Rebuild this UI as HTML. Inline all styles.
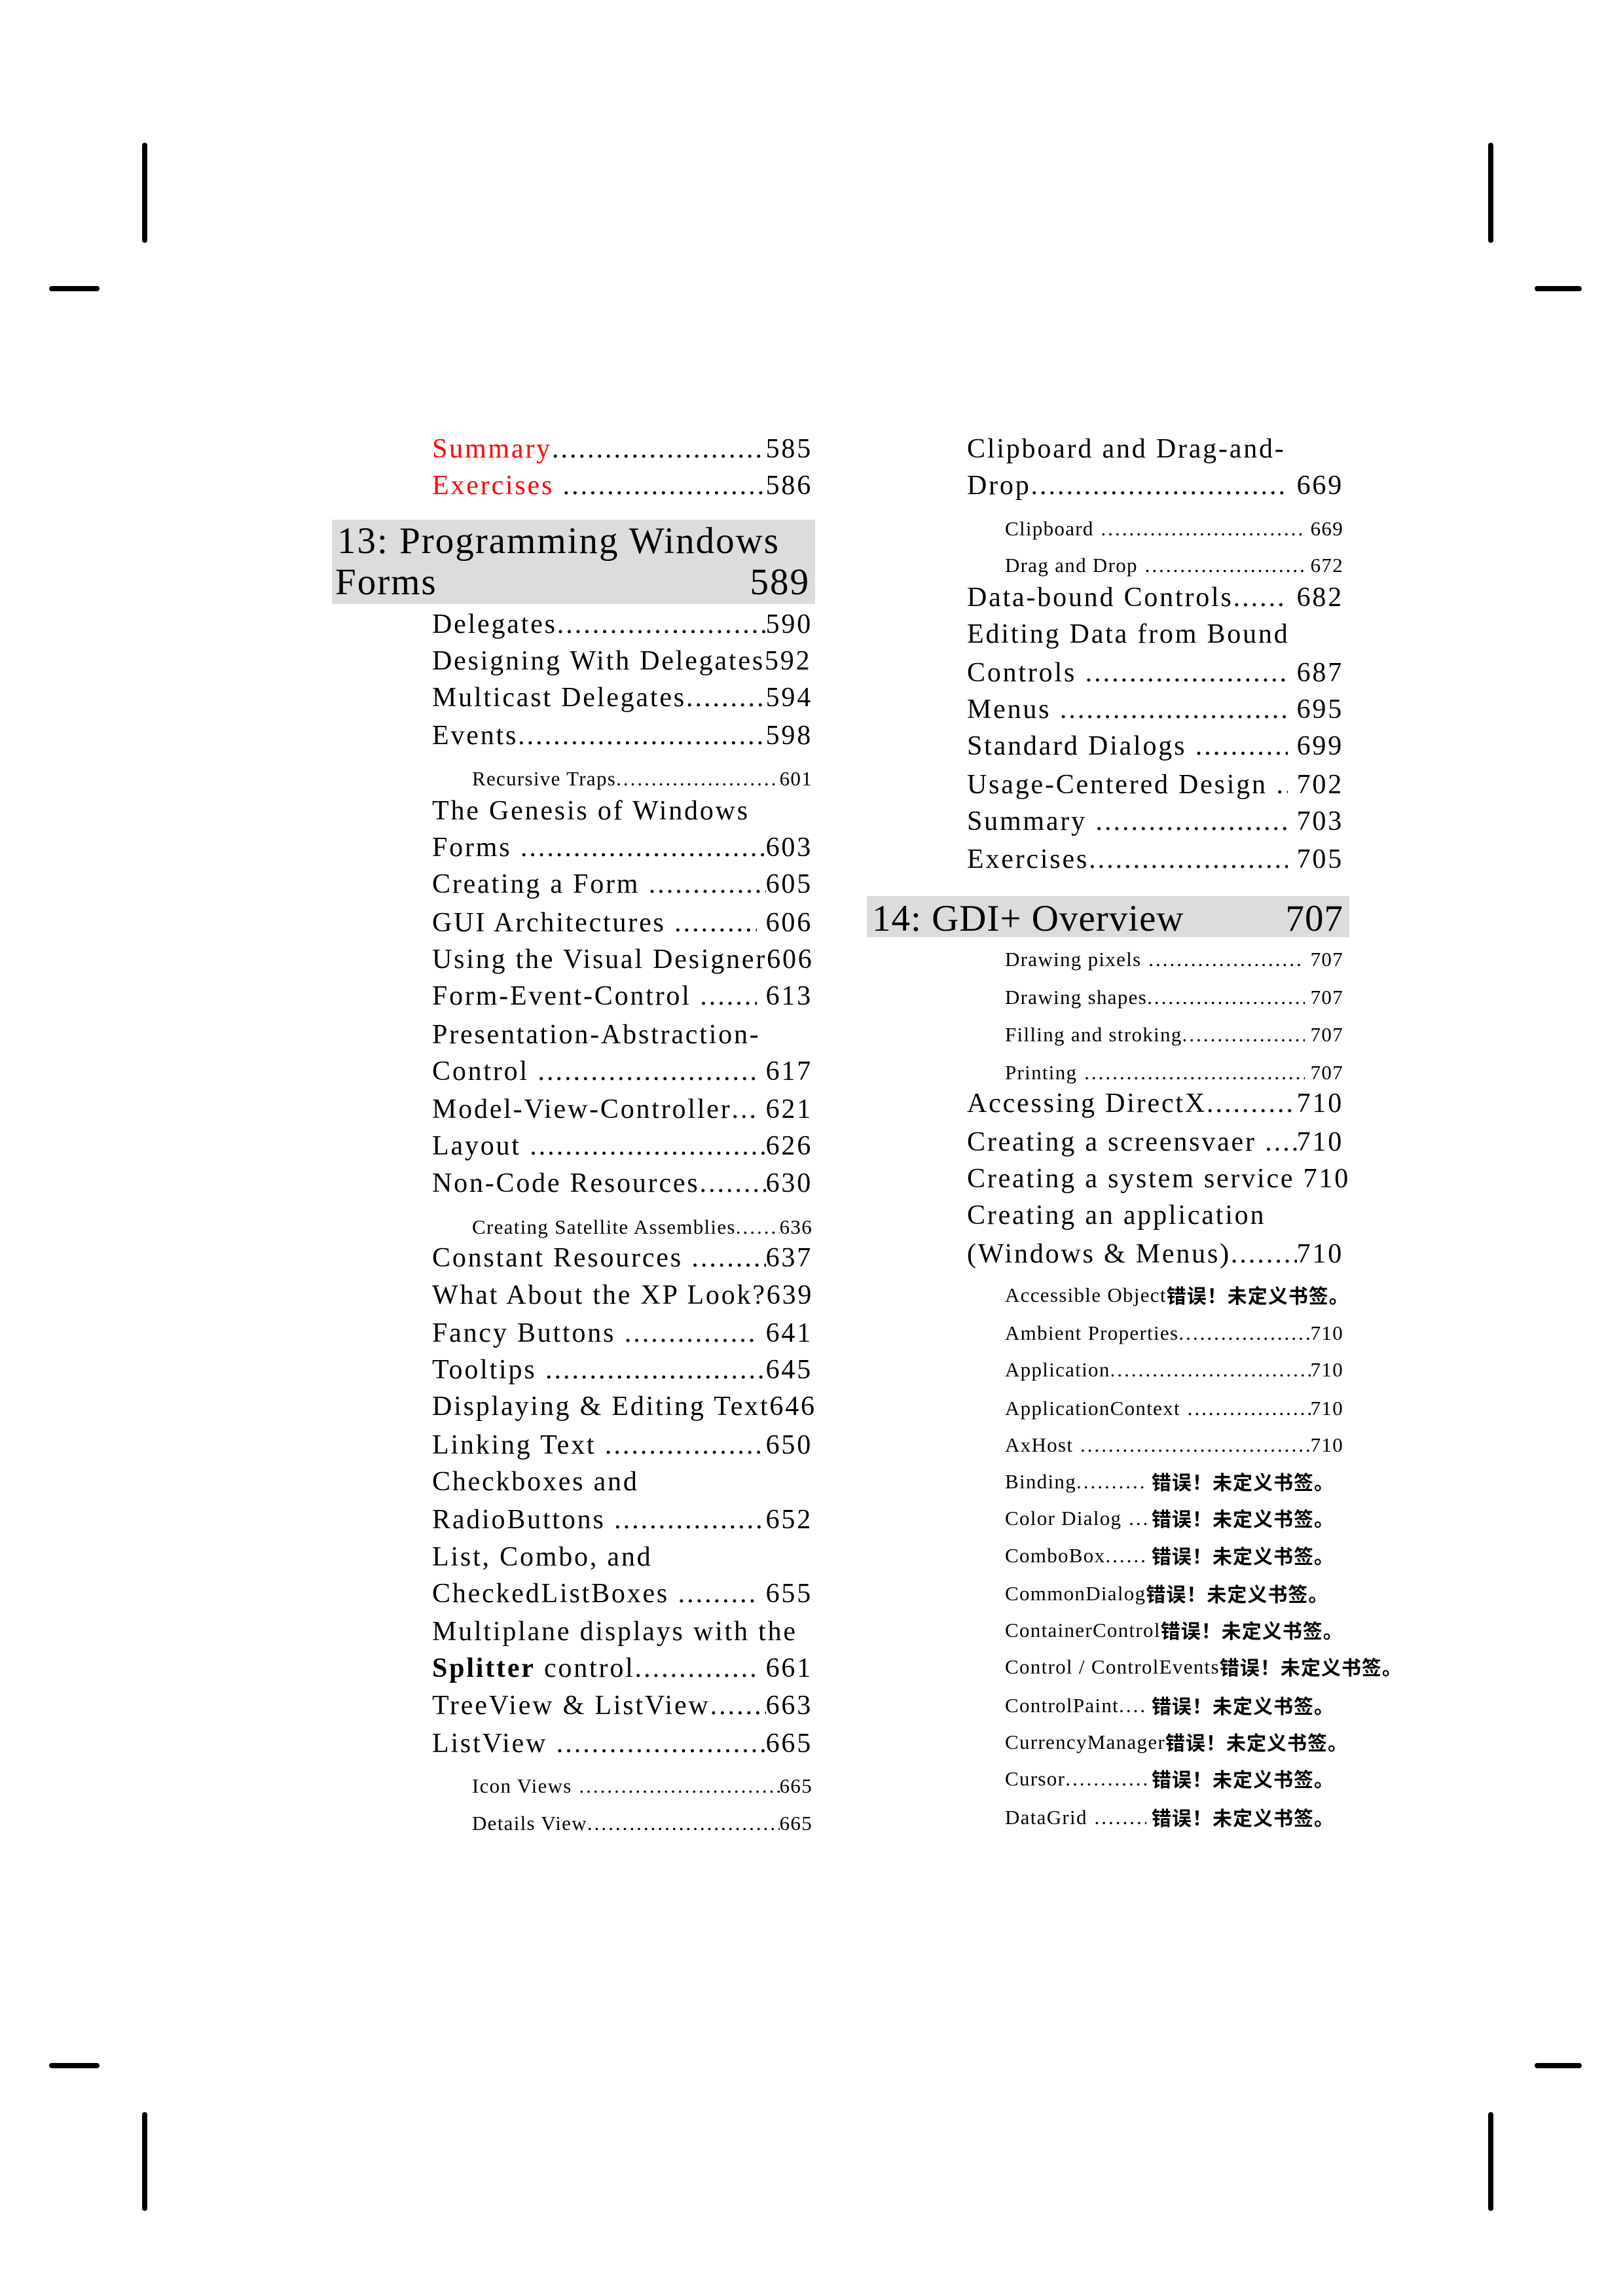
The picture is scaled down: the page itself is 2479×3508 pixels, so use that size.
<!DOCTYPE html>
<html><head><meta charset="utf-8"><style>
html,body{margin:0;padding:0;background:#fff;}
body{width:2479px;height:3508px;position:relative;overflow:hidden;font-family:"Liberation Serif","Noto Serif CJK SC",serif;color:#000;}
.m,.s,.h{position:absolute;display:flex;white-space:nowrap;}
.m{font-size:42px;line-height:42px;height:42px;letter-spacing:2.8px;}
.s{font-size:31px;line-height:29px;height:29px;letter-spacing:1.3px;}
.h{font-size:57px;line-height:57px;height:57px;letter-spacing:2px;}
.L{left:660px;width:581px;}
.R{left:1477px;width:575px;}
.sl{left:721px;width:520px;}
.sr{left:1535px;width:517px;}
.d{flex:1 1 auto;overflow:hidden;min-width:0;letter-spacing:3px;}
.n{flex:0 0 auto;}
.red{color:#f00;}
.cj{flex:0 0 auto;font-family:"Noto Sans CJK SC","WenQuanYi Zen Hei",sans-serif;font-weight:bold;font-size:30px;letter-spacing:1px;}
.box{position:absolute;background:#dcdcdc;}
.k{position:absolute;background:#000;border-radius:4px;}
</style></head><body>
<div class="k" style="left:217px;top:218px;width:8px;height:153px"></div>
<div class="k" style="left:2273px;top:218px;width:8px;height:153px"></div>
<div class="k" style="left:217px;top:3227px;width:8px;height:151px"></div>
<div class="k" style="left:2273px;top:3227px;width:8px;height:151px"></div>
<div class="k" style="left:75px;top:437px;width:77px;height:8px"></div>
<div class="k" style="left:2344px;top:437px;width:72px;height:8px"></div>
<div class="k" style="left:75px;top:3152px;width:77px;height:8px"></div>
<div class="k" style="left:2344px;top:3152px;width:72px;height:8px"></div>

<div class="m L" style="top:665px"><span class="red">Summary</span><span class="d">....................................................................................</span><span class="n">585</span></div>
<div class="m L" style="top:721px"><span class="red">Exercises</span><span class="d">&nbsp;....................................................................................</span><span class="n">586</span></div>
<div class="box" style="left:507px;top:794px;width:738px;height:129px"></div>
<div class="h" style="left:515px;top:798px">13: Programming Windows</div>
<div class="h" style="left:512px;top:861px;width:725px"><span>Forms</span><span style="flex:1"></span><span class="n">589</span></div>
<div class="m L" style="top:933px"><span>Delegates</span><span class="d">....................................................................................</span><span class="n">590</span></div>
<div class="m L" style="top:989px"><span>Designing With Delegates592</span></div>
<div class="m L" style="top:1045px"><span>Multicast Delegates</span><span class="d">....................................................................................</span><span class="n">594</span></div>
<div class="m L" style="top:1103px"><span>Events</span><span class="d">....................................................................................</span><span class="n">598</span></div>
<div class="s sl" style="top:1175px"><span>Recursive Traps</span><span class="d">............................................................................................</span><span class="n">601</span></div>
<div class="m L" style="top:1218px"><span>The Genesis of Windows</span></div>
<div class="m L" style="top:1274px"><span>Forms</span><span class="d">&nbsp;....................................................................................</span><span class="n">603</span></div>
<div class="m L" style="top:1330px"><span>Creating a Form</span><span class="d">&nbsp;....................................................................................</span><span class="n">605</span></div>
<div class="m L" style="top:1389px"><span>GUI Architectures</span><span class="d">&nbsp;....................................................................................</span><span class="n">&nbsp;606</span></div>
<div class="m L" style="top:1445px"><span>Using the Visual Designer606</span></div>
<div class="m L" style="top:1501px"><span>Form-Event-Control</span><span class="d">&nbsp;....................................................................................</span><span class="n">&nbsp;613</span></div>
<div class="m L" style="top:1560px"><span>Presentation-Abstraction-</span></div>
<div class="m L" style="top:1616px"><span>Control</span><span class="d">&nbsp;....................................................................................</span><span class="n">&nbsp;617</span></div>
<div class="m L" style="top:1674px"><span>Model-View-Controller</span><span class="d">....................................................................................</span><span class="n">&nbsp;621</span></div>
<div class="m L" style="top:1730px"><span>Layout</span><span class="d">&nbsp;....................................................................................</span><span class="n">626</span></div>
<div class="m L" style="top:1787px"><span>Non-Code Resources</span><span class="d">....................................................................................</span><span class="n">630</span></div>
<div class="s sl" style="top:1860px"><span>Creating Satellite Assemblies</span><span class="d">...........................................................</span><span class="n">636</span></div>
<div class="m L" style="top:1901px"><span>Constant Resources</span><span class="d">&nbsp;....................................................................................</span><span class="n">637</span></div>
<div class="m L" style="top:1958px"><span>What About the XP Look?639</span></div>
<div class="m L" style="top:2016px"><span>Fancy Buttons</span><span class="d">&nbsp;....................................................................................</span><span class="n">&nbsp;641</span></div>
<div class="m L" style="top:2072px"><span>Tooltips</span><span class="d">&nbsp;....................................................................................</span><span class="n">645</span></div>
<div class="m L" style="top:2128px"><span>Displaying &amp; Editing Text646</span></div>
<div class="m L" style="top:2187px"><span>Linking Text</span><span class="d">&nbsp;....................................................................................</span><span class="n">650</span></div>
<div class="m L" style="top:2243px"><span>Checkboxes and</span></div>
<div class="m L" style="top:2301px"><span>RadioButtons</span><span class="d">&nbsp;....................................................................................</span><span class="n">652</span></div>
<div class="m L" style="top:2358px"><span>List, Combo, and</span></div>
<div class="m L" style="top:2414px"><span>CheckedListBoxes</span><span class="d">&nbsp;....................................................................................</span><span class="n">&nbsp;655</span></div>
<div class="m L" style="top:2472px"><span>Multiplane displays with the</span></div>
<div class="m L" style="top:2528px"><span><b>Splitter</b> control</span><span class="d">....................................................................................</span><span class="n">&nbsp;661</span></div>
<div class="m L" style="top:2585px"><span>TreeView &amp; ListView</span><span class="d">....................................................................................</span><span class="n">663</span></div>
<div class="m L" style="top:2643px"><span>ListView</span><span class="d">&nbsp;....................................................................................</span><span class="n">665</span></div>
<div class="s sl" style="top:2714px"><span>Icon Views</span><span class="d">&nbsp;............................................................................................</span><span class="n">665</span></div>
<div class="s sl" style="top:2771px"><span>Details View</span><span class="d">............................................................................................</span><span class="n">665</span></div>

<div class="m R" style="top:665px"><span>Clipboard and Drag-and-</span></div>
<div class="m R" style="top:721px"><span>Drop</span><span class="d">....................................................................................</span><span class="n">&nbsp;669</span></div>
<div class="s sr" style="top:793px"><span>Clipboard</span><span class="d">&nbsp;............................................................................................</span><span class="n">&nbsp;669</span></div>
<div class="s sr" style="top:849px"><span>Drag and Drop</span><span class="d">&nbsp;............................................................................................</span><span class="n">&nbsp;672</span></div>
<div class="m R" style="top:892px"><span>Data-bound Controls</span><span class="d">....................................................................................</span><span class="n">&nbsp;682</span></div>
<div class="m R" style="top:948px"><span>Editing Data from Bound</span></div>
<div class="m R" style="top:1007px"><span>Controls</span><span class="d">&nbsp;....................................................................................</span><span class="n">&nbsp;687</span></div>
<div class="m R" style="top:1063px"><span>Menus</span><span class="d">&nbsp;....................................................................................</span><span class="n">&nbsp;695</span></div>
<div class="m R" style="top:1119px"><span>Standard Dialogs</span><span class="d">&nbsp;....................................................................................</span><span class="n">&nbsp;699</span></div>
<div class="m R" style="top:1178px"><span>Usage-Centered Design</span><span class="d">&nbsp;....................................................................................</span><span class="n">&nbsp;702</span></div>
<div class="m R" style="top:1234px"><span>Summary</span><span class="d">&nbsp;....................................................................................</span><span class="n">&nbsp;703</span></div>
<div class="m R" style="top:1292px"><span>Exercises</span><span class="d">....................................................................................</span><span class="n">&nbsp;705</span></div>
<div class="box" style="left:1324px;top:1369px;width:737px;height:63px"></div>
<div class="h" style="left:1332px;top:1375px;width:720px;letter-spacing:1px"><span>14: GDI+ Overview</span><span style="flex:1"></span><span class="n">707</span></div>
<div class="s sr" style="top:1451px"><span>Drawing pixels</span><span class="d">&nbsp;............................................................................................</span><span class="n">&nbsp;707</span></div>
<div class="s sr" style="top:1509px"><span>Drawing shapes</span><span class="d">............................................................................................</span><span class="n">&nbsp;707</span></div>
<div class="s sr" style="top:1566px"><span>Filling and stroking</span><span class="d">............................................................................................</span><span class="n">&nbsp;707</span></div>
<div class="s sr" style="top:1624px"><span>Printing</span><span class="d">&nbsp;............................................................................................</span><span class="n">&nbsp;707</span></div>
<div class="m R" style="top:1665px"><span>Accessing DirectX</span><span class="d">....................................................................................</span><span class="n">710</span></div>
<div class="m R" style="top:1724px"><span>Creating a screensvaer</span><span class="d">&nbsp;....................................................................................</span><span class="n">710</span></div>
<div class="m R" style="top:1780px"><span>Creating a system service 710</span></div>
<div class="m R" style="top:1836px"><span>Creating an application</span></div>
<div class="m R" style="top:1895px"><span>(Windows &amp; Menus)</span><span class="d">....................................................................................</span><span class="n">710</span></div>
<div class="s sr" style="top:1964px;width:526px"><span>Accessible Object</span><span class="cj">错误！未定义书签。</span></div>
<div class="s sr" style="top:2022px"><span>Ambient Properties</span><span class="d">............................................................................................</span><span class="n">710</span></div>
<div class="s sr" style="top:2078px"><span>Application</span><span class="d">............................................................................................</span><span class="n">710</span></div>
<div class="s sr" style="top:2137px"><span>ApplicationContext</span><span class="d">&nbsp;............................................................................................</span><span class="n">710</span></div>
<div class="s sr" style="top:2193px"><span>AxHost</span><span class="d">&nbsp;............................................................................................</span><span class="n">710</span></div>
<div class="s sr" style="top:2249px;width:503px"><span>Binding</span><span class="d">............................................................................................</span><span class="cj">&nbsp;错误！未定义书签。</span></div>
<div class="s sr" style="top:2305px;width:503px"><span>Color Dialog</span><span class="d">&nbsp;............................................................................................</span><span class="cj">&nbsp;错误！未定义书签。</span></div>
<div class="s sr" style="top:2362px;width:503px"><span>ComboBox</span><span class="d">............................................................................................</span><span class="cj">&nbsp;错误！未定义书签。</span></div>
<div class="s sr" style="top:2420px;width:503px"><span>CommonDialog</span><span class="cj">错误！未定义书签。</span></div>
<div class="s sr" style="top:2476px;width:530px"><span>ContainerControl</span><span class="cj">错误！未定义书签。</span></div>
<div class="s sr" style="top:2532px;width:616px"><span>Control / ControlEvents</span><span class="cj">错误！未定义书签。</span></div>
<div class="s sr" style="top:2591px;width:503px"><span>ControlPaint</span><span class="d">............................................................................................</span><span class="cj">&nbsp;错误！未定义书签。</span></div>
<div class="s sr" style="top:2647px;width:535px"><span>CurrencyManager</span><span class="cj">错误！未定义书签。</span></div>
<div class="s sr" style="top:2703px;width:503px"><span>Cursor</span><span class="d">............................................................................................</span><span class="cj">&nbsp;错误！未定义书签。</span></div>
<div class="s sr" style="top:2762px;width:503px"><span>DataGrid</span><span class="d">&nbsp;............................................................................................</span><span class="cj">&nbsp;错误！未定义书签。</span></div>
</body></html>
